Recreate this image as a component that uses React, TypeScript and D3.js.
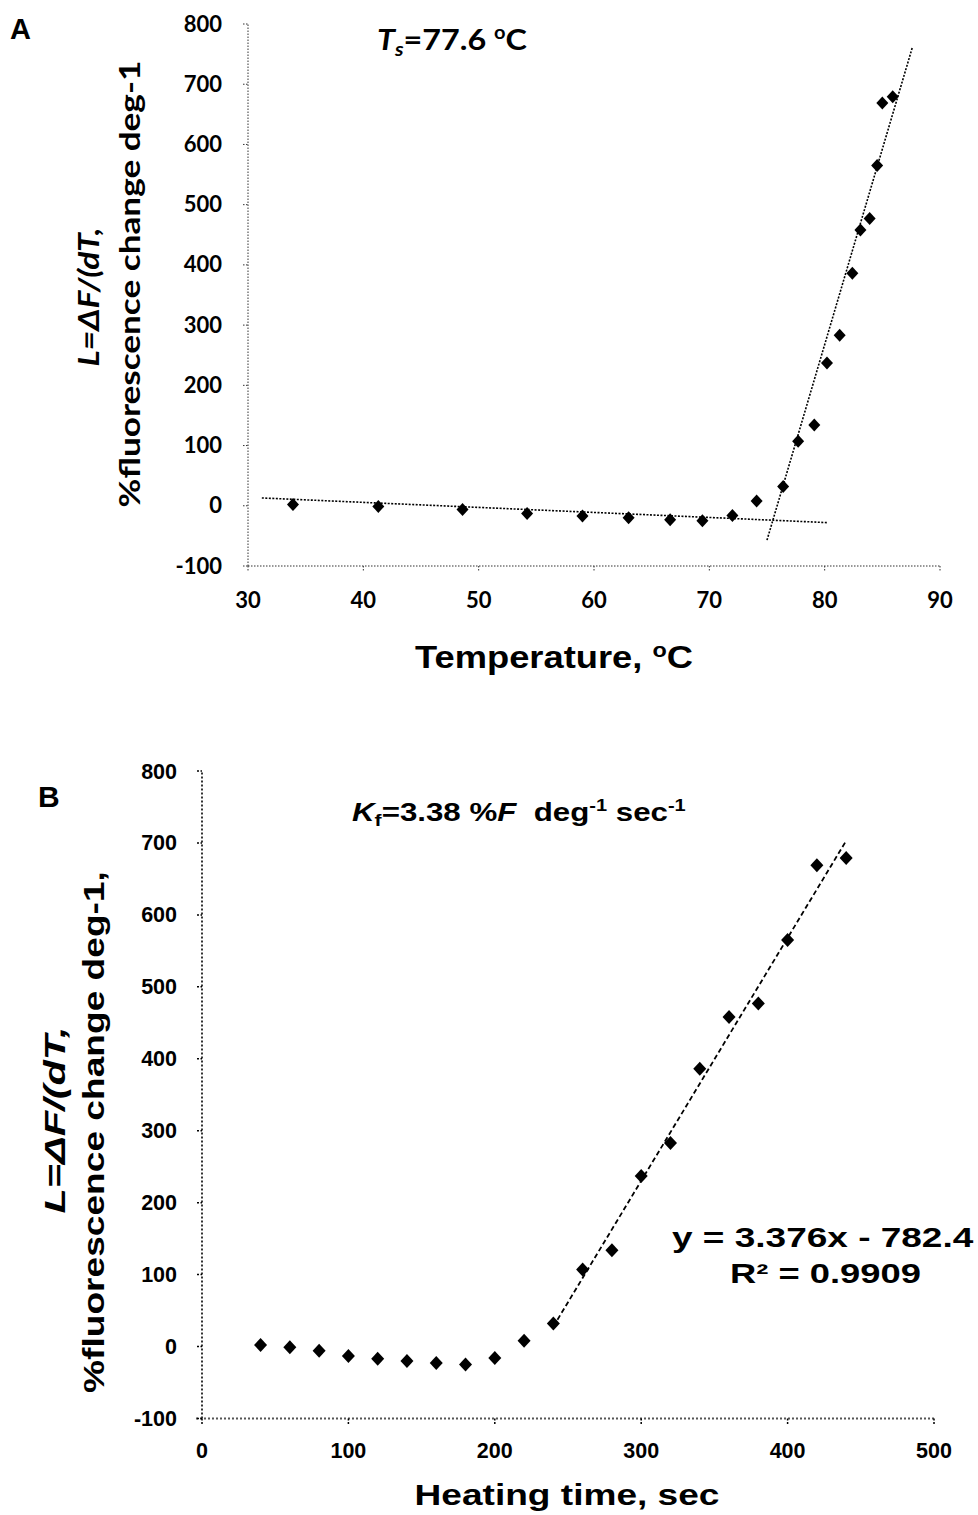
import React, { useLayoutEffect, useRef, useState } from 'react';
import * as d3 from 'd3';

// ---------- data ----------
const timeSec = [40, 60, 80, 100, 120, 140, 160, 180, 200, 220, 240, 260, 280, 300, 320, 340, 360, 380, 400, 420, 440];
const lValues = [2, -1, -6, -13, -17, -20, -23, -25, -16, 8, 32, 107, 134, 237, 283, 386, 458, 477, 565, 669, 679];
const tempC = [33.9, 41.3, 48.6, 54.2, 59.0, 63.0, 66.6, 69.4, 72.0, 74.1, 76.4, 77.7, 79.1, 80.2, 81.3, 82.4, 83.1, 83.9, 84.55, 85.0, 85.9];

const yTickValues = [-100, 0, 100, 200, 300, 400, 500, 600, 700, 800];
const xTicksA = [30, 40, 50, 60, 70, 80, 90];
const xTicksB = [0, 100, 200, 300, 400, 500];

// fitted lines in panel A (temperature, L)
const flatFit: [number, number][] = [[31.2, 13], [80.3, -28]];
const steepFit: [number, number][] = [[75.0, -57], [87.6, 761]];
// regression in panel B
const fitSlope = 3.376;
const fitIntercept = -782.4;
const fitRange = [240, 440];

// ---------- scales ----------
const xA = d3.scaleLinear().domain([30, 90]).range([248, 940]);
const yA = d3.scaleLinear().domain([-100, 800]).range([566, 24]);
const xB = d3.scaleLinear().domain([0, 500]).range([202, 934]);
const yB = d3.scaleLinear().domain([-100, 800]).range([1418.5, 771]);

const calibri = "Lato, 'Open Sans', sans-serif";
const arial = "'Liberation Sans', Arial, sans-serif";

const diamondType = (hw: number, hh: number) => ({
  draw(ctx: any) {
    ctx.moveTo(0, -hh);
    ctx.lineTo(hw, 0);
    ctx.lineTo(0, hh);
    ctx.lineTo(-hw, 0);
    ctx.closePath();
  },
});
const diamondA = d3.symbol(diamondType(6, 6.5) as any)() as string;
const diamondB = d3.symbol(diamondType(6.5, 7) as any)() as string;

function FitText({ x, y, rotate = 0, width, anchor = 'start', style, children }: any) {
  const ref = useRef<SVGTextElement>(null);
  const [s, setS] = useState(1);
  useLayoutEffect(() => {
    if (ref.current && width) {
      const w = ref.current.getBBox().width;
      if (w > 0) setS(width / w);
    }
  }, [width]);
  return (
    <g transform={`translate(${x},${y}) rotate(${rotate})`}>
      <g transform={`scale(${s},1)`}>
        <text ref={ref} textAnchor={anchor} style={style}>
          {children}
        </text>
      </g>
    </g>
  );
}

export default function App() {
  const lineA = d3.line<[number, number]>().x((d) => xA(d[0])).y((d) => yA(d[1]));
  const fitB = d3
    .line<number>()
    .x((t) => xB(t))
    .y((t) => yB(fitSlope * t + fitIntercept));

  const bold = { fontWeight: 700 } as const;

  return (
    <svg
      width={978}
      height={1515}
      style={{ position: 'absolute', left: 0, top: 0, background: '#fff' }}
    >
      <rect x={0} y={0} width={978} height={1515} fill="#fff" />

      {/* ================= PANEL A ================= */}
      <text x={10} y={39} style={{ fontFamily: arial, fontSize: 29, ...bold }}>A</text>

      {/* axes */}
      <line x1={xA(30)} x2={xA(30)} y1={yA(-100)} y2={yA(800)} stroke="#333" strokeWidth={1} strokeDasharray="1.5,1.5" />
      <line x1={xA(30)} x2={xA(90)} y1={yA(-100)} y2={yA(-100)} stroke="#333" strokeWidth={1.2} strokeDasharray="1.5,1.5" />
      {yTickValues.map((v) => (
        <g key={'ya' + v}>
          <line x1={xA(30) - 5} x2={xA(30)} y1={yA(v)} y2={yA(v)} stroke="#333" strokeWidth={1} strokeDasharray="1.5,1.5" />
          <text x={222} y={yA(v) + 7.5} textAnchor="end" style={{ fontFamily: calibri, fontSize: 22, ...bold }}>{v}</text>
        </g>
      ))}
      {xTicksA.map((v) => (
        <g key={'xa' + v}>
          <line x1={xA(v)} x2={xA(v)} y1={yA(-100)} y2={yA(-100) + 5} stroke="#333" strokeWidth={1} strokeDasharray="1.5,1.5" />
          <text x={xA(v)} y={608} textAnchor="middle" style={{ fontFamily: calibri, fontSize: 22, ...bold }}>{v}</text>
        </g>
      ))}

      {/* fit lines */}
      <path d={lineA(flatFit) || ''} fill="none" stroke="#000" strokeWidth={1.6} strokeDasharray="2,1.5" />
      <path d={lineA(steepFit) || ''} fill="none" stroke="#000" strokeWidth={1.6} strokeDasharray="2,1.5" />

      {/* points */}
      {tempC.map((t, i) => (
        <path key={'pa' + i} d={diamondA} transform={`translate(${xA(t)},${yA(lValues[i])})`} fill="#000" />
      ))}

      {/* Ts annotation */}
      <FitText x={377} y={50} width={150} style={{ fontFamily: calibri, fontSize: 29, ...bold }}>
        <tspan fontStyle="italic">T</tspan>
        <tspan fontStyle="italic" fontSize={19} dy={6}>s</tspan>
        <tspan dy={-6}>=77.6 </tspan>
        <tspan fontSize={18} dy={-11}>o</tspan>
        <tspan dy={11}>C</tspan>
      </FitText>

      {/* axis titles */}
      <FitText x={554} y={668} width={278} anchor="middle" style={{ fontFamily: arial, fontSize: 31, ...bold }}>
        <tspan>Temperature, </tspan>
        <tspan fontSize={20} dy={-11}>o</tspan>
        <tspan dy={11}>C</tspan>
      </FitText>
      <FitText x={99} y={297} rotate={-90} width={139} anchor="middle" style={{ fontFamily: calibri, fontSize: 28, ...bold, fontStyle: 'italic' }}>
        L=ΔF/(dT,
      </FitText>
      <FitText x={140} y={284} rotate={-90} width={447} anchor="middle" style={{ fontFamily: calibri, fontSize: 29, ...bold }}>
        %fluorescence change deg-1
      </FitText>

      {/* ================= PANEL B ================= */}
      <text x={38} y={807} style={{ fontFamily: arial, fontSize: 30, ...bold }}>B</text>

      <line x1={xB(0)} x2={xB(0)} y1={yB(-100)} y2={yB(800)} stroke="#000" strokeWidth={1.6} strokeDasharray="2,2" />
      <line x1={xB(0) - 6} x2={xB(500)} y1={yB(-100)} y2={yB(-100)} stroke="#555" strokeWidth={1.8} strokeDasharray="2,2" />
      {yTickValues.map((v) => (
        <g key={'yb' + v}>
          <line x1={xB(0) - 5} x2={xB(0)} y1={yB(v)} y2={yB(v)} stroke="#000" strokeWidth={1.5} strokeDasharray="2,1.5" />
          <text x={177} y={yB(v) + 7.5} textAnchor="end" style={{ fontFamily: arial, fontSize: 21.5, ...bold }}>{v}</text>
        </g>
      ))}
      {xTicksB.map((v) => (
        <g key={'xb' + v}>
          <line x1={xB(v)} x2={xB(v)} y1={yB(-100)} y2={yB(-100) + 7} stroke="#000" strokeWidth={1.5} strokeDasharray="2,1.5" />
          <text x={xB(v)} y={1458} textAnchor="middle" style={{ fontFamily: arial, fontSize: 21.5, ...bold }}>{v}</text>
        </g>
      ))}

      {/* regression line */}
      <path d={fitB(fitRange) || ''} fill="none" stroke="#000" strokeWidth={1.8} strokeDasharray="5,3" />

      {/* points */}
      {timeSec.map((t, i) => (
        <path key={'pb' + i} d={diamondB} transform={`translate(${xB(t)},${yB(lValues[i])})`} fill="#000" />
      ))}

      {/* Kf annotation */}
      <FitText x={352} y={821} width={334} style={{ fontFamily: arial, fontSize: 25, ...bold }}>
        <tspan fontStyle="italic">K</tspan>
        <tspan fontSize={17} dy={5}>f</tspan>
        <tspan dy={-5}>=3.38 %</tspan>
        <tspan fontStyle="italic">F</tspan>
        <tspan>{'\u00a0 deg'}</tspan>
        <tspan fontSize={16} dy={-10}>-1</tspan>
        <tspan dy={10}> sec</tspan>
        <tspan fontSize={16} dy={-10}>-1</tspan>
      </FitText>

      {/* equation */}
      <FitText x={672} y={1247} width={302} style={{ fontFamily: arial, fontSize: 28, ...bold }}>
        y = 3.376x - 782.4
      </FitText>
      <FitText x={730} y={1283} width={191} style={{ fontFamily: arial, fontSize: 28, ...bold }}>
        R² = 0.9909
      </FitText>

      {/* axis titles */}
      <FitText x={567} y={1505} width={305} anchor="middle" style={{ fontFamily: arial, fontSize: 30, ...bold }}>
        Heating time, sec
      </FitText>
      <FitText x={65} y={1120} rotate={-90} width={187} anchor="middle" style={{ fontFamily: arial, fontSize: 30, ...bold, fontStyle: 'italic' }}>
        L=ΔF/(dT,
      </FitText>
      <FitText x={104} y={1132} rotate={-90} width={522} anchor="middle" style={{ fontFamily: arial, fontSize: 29, ...bold }}>
        %fluorescence change deg-1,
      </FitText>
    </svg>
  );
}
